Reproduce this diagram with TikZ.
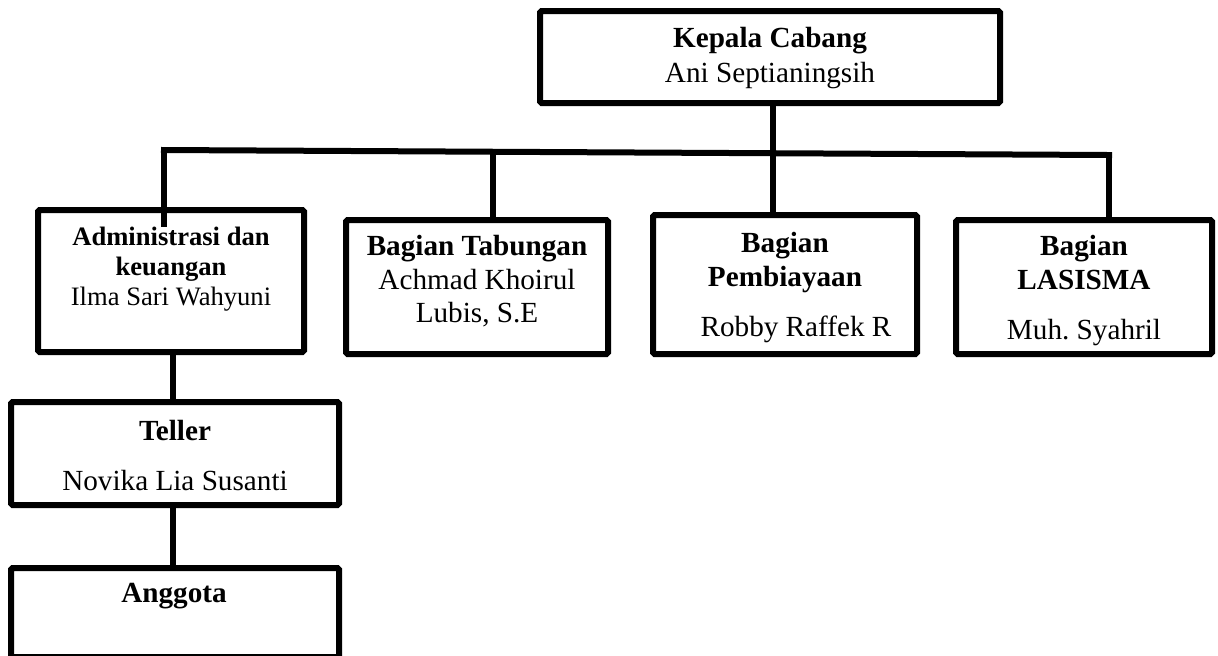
\documentclass[tikz,border=0pt]{standalone}
\usepackage{fontspec}
\setmainfont{Liberation Serif}
\usetikzlibrary{calc}
\frenchspacing

\tikzset{
  unit/.style={draw, line width=3pt, rectangle, rounded corners=0.8pt, inner sep=0pt},
  txt/.style={anchor=north, align=center, inner sep=0pt, font=\fontsize{14.6}{16.75}\selectfont},
  link/.style={line width=3pt},
}

\begin{document}
\begin{tikzpicture}[x=0.5pt,y=-0.5pt]
  \useasboundingbox (0,0) rectangle (1218,655);

  % kepala cabang
  \node[unit, minimum width=230pt, minimum height=46pt] (kc) at (770,57) {};
  \node[txt, font=\fontsize{14.6}{17.5}\selectfont] (kc-t) at (770,27)
    {\textbf{Kepala Cabang}\\Ani Septianingsih};

  % bagian-bagian
  \node[unit, minimum width=133pt, minimum height=71pt] (adm) at (171,281) {};
  \node[txt, font=\fontsize{13.3}{15}\selectfont] (adm-t) at (171,227)
    {\textbf{Administrasi dan}\\\textbf{keuangan}\\Ilma Sari Wahyuni};
  \node[unit, minimum width=131pt, minimum height=67pt] (tab) at (477,287) {};
  \node[txt] (tab-t) at (477,235)
    {\textbf{Bagian Tabungan}\\Achmad Khoirul\\Lubis, S.E};
  \node[unit, minimum width=132pt, minimum height=69.5pt] (pem) at (785,284.5) {};
  \node[txt] (pem-t) at (785,232)
    {\textbf{Bagian}\\\textbf{Pembiayaan}\\[8.5pt]\hspace*{11pt}Robby Raffek R};
  \node[unit, minimum width=128pt, minimum height=67pt] (las) at (1084,287) {};
  \node[txt] (las-t) at (1084,235)
    {\textbf{Bagian}\\\textbf{LASISMA}\\[8.5pt]Muh. Syahril};

  % teller dan anggota
  \node[unit, minimum width=164pt, minimum height=51.5pt] (tel) at (175,453.5) {};
  \node[txt] (tel-t) at (175,420)
    {\textbf{Teller}\\[8pt]Novika Lia Susanti};
  \node[unit, minimum width=164pt, minimum height=44.5pt] (ang) at (175,612.5) {};
  \node[txt] (ang-t) at (174,583) {\textbf{Anggota}};

  % garis
  \coordinate (bl) at (164,150);
  \coordinate (br) at (1109,155);
  \coordinate (j0) at (773,153.4);
  \coordinate (j2) at (493,151.7);
  \coordinate (j3) at (773,153.4);
  \draw[link, line cap=rect] (bl) -- (br);
  \draw[link] (kc.south -| j0) -- (j0);
  \draw[link] (bl) -- (bl |- adm-t.north);
  \draw[link] (j2) -- (j2 |- tab.north);
  \draw[link] (j3) -- (j3 |- pem.north);
  \draw[link] (br) -- (br |- las.north);
  \draw[link] (173,0 |- adm.south) -- (173,0 |- tel.north);
  \draw[link] (173,0 |- tel.south) -- (173,0 |- ang.north);
\end{tikzpicture}
\end{document}
